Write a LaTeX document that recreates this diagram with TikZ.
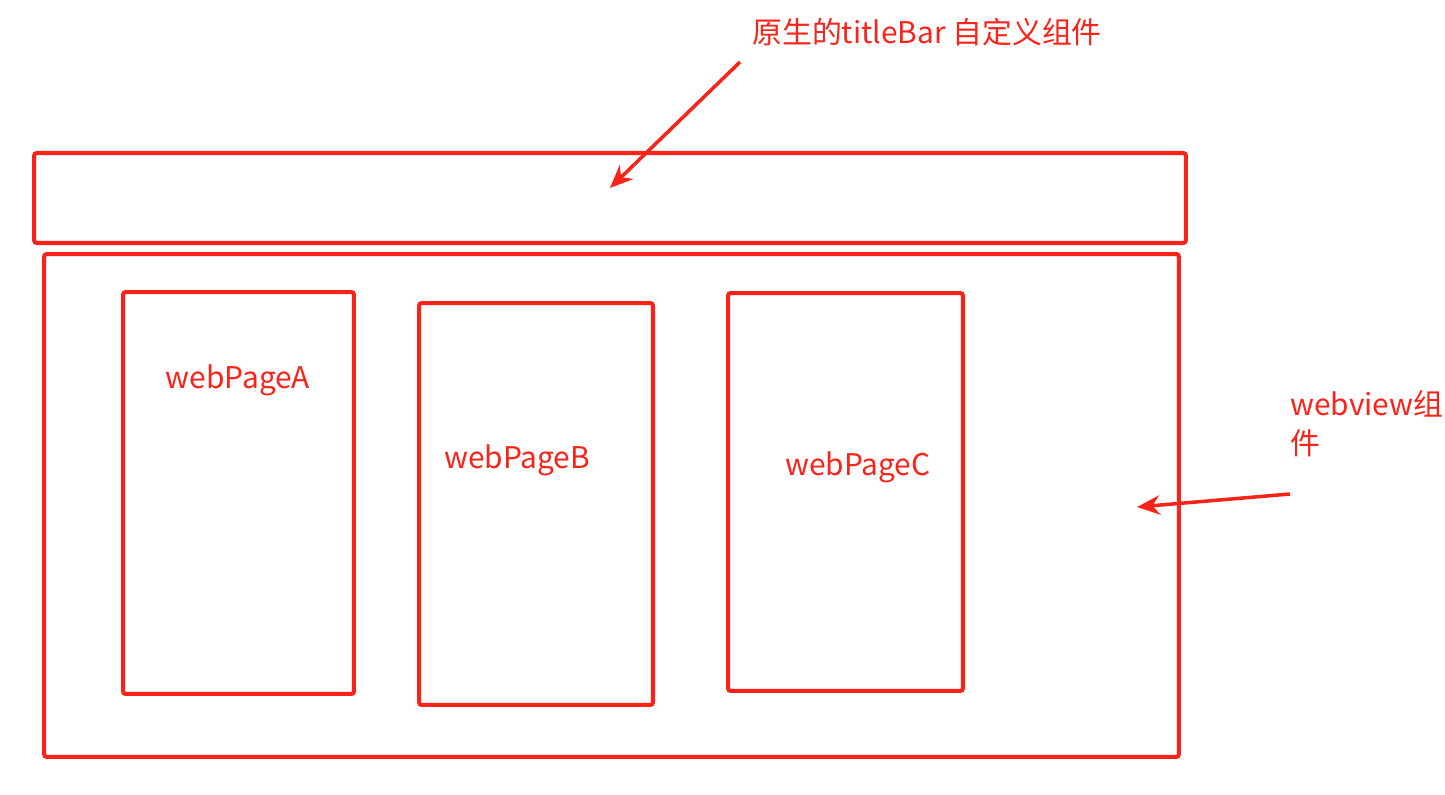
\documentclass[tikz,border=0pt]{standalone}
\usepackage{fontspec}
\setmainfont{Noto Sans CJK SC}
\usetikzlibrary{arrows.meta, positioning}
\definecolor{markred}{RGB}{250, 35, 25}

\tikzset{
  box/.style={draw=markred, line width=2.3pt, rounded corners=1.5pt, inner sep=0pt},
  pagelabel/.style={text=markred, font=\fontsize{17}{21}\selectfont},
  pointer/.style={draw=markred, line width=2pt, -{Stealth[length=13pt, width=11pt]}}
}

\begin{document}
\begin{tikzpicture}[x=0.02cm, y=-0.02cm]
  \useasboundingbox (0,0) rectangle (1445,795);

  % titleBar
  \node[box, minimum width=23.04cm, minimum height=1.8cm] (titlebar) at (610,198) {};

  % webview container
  \node[box, minimum width=22.7cm, minimum height=10.06cm] (webview) at (611.5,505.5) {};

  % pages
  \node[box, minimum width=4.62cm, minimum height=8.04cm] (pageA) at (238.5,493) {};
  \node[box, minimum width=4.68cm, minimum height=8.04cm] (pageB) at (536,504) {};
  \node[box, minimum width=4.7cm, minimum height=7.96cm] (pageC) at (845.5,492) {};

  \node[pagelabel] (labelA) at (238,380) {webPageA};
  \node[pagelabel] (labelB) at (517,460) {webPageB};
  \node[pagelabel] (labelC) at (858,467) {webPageC};

  % callouts
  \node[pagelabel, anchor=west, inner sep=0pt] (titlenote) at (752,32) {原生的titleBar 自定义组件};
  \node[pagelabel, anchor=north west, align=left, inner sep=0pt, font=\fontsize{17}{22}\selectfont] (webnote) at (1290,390) {webview组\\件};

  \coordinate (titletail) at (740,62);
  \coordinate (titlehead) at (610,188);
  \coordinate (webtail) at (1290,494);
  \coordinate (webhead) at (1137,507);

  \draw[pointer] (titletail) -- (titlehead);
  \draw[pointer] (webtail) -- (webhead);
\end{tikzpicture}
\end{document}
